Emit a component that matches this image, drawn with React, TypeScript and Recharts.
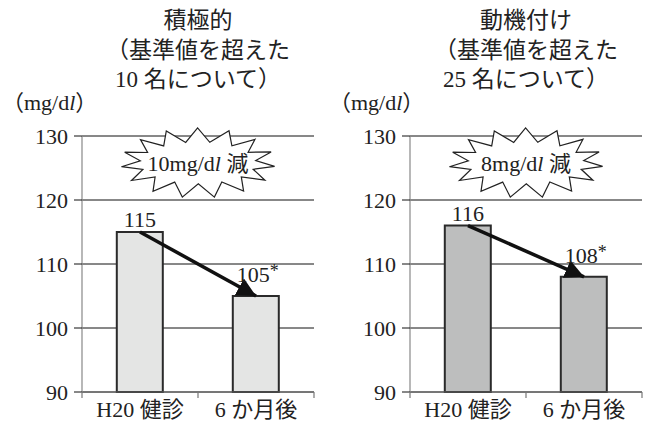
import React from "react";
import {
  BarChart, Bar, Line, XAxis, YAxis, CartesianGrid, LabelList, ReferenceArea,
} from "recharts";

// 健診時と6か月後の平均値（mg/dl）
const categories = ["H20 健診", "6 か月後"];
const sekkyokuValues = [115, 105];
const doukiValues = [116, 108];
const significance = ["", "*"];
const yTicks = [90, 100, 110, 120, 130];

const FONT = '"Liberation Serif", "Times New Roman", "DejaVu Serif", "Noto Sans CJK JP", serif';
const INK = "#222";

const toRows = (values: number[]) =>
  categories.map((name, i) => ({ name, value: values[i], mark: significance[i] }));

// カテゴリ名と、カテゴリ境界の目盛り線
const CategoryTick = (props: any) => {
  const { x, y, width, index, payload } = props;
  const band = width / categories.length;
  const left = x - band / 2;
  const right = x + band / 2;
  return (
    <g>
      <line x1={left} x2={left} y1={y} y2={y + 6} stroke="#777" strokeWidth={1.2} />
      {index === categories.length - 1 && (
        <line x1={right} x2={right} y1={y} y2={y + 6} stroke="#777" strokeWidth={1.2} />
      )}
      <text x={x} y={y + 25} textAnchor="middle" fontSize={22} fontFamily={FONT} fill={INK}>
        {payload.value}
      </text>
    </g>
  );
};

const ValueLabel = (props: any) => {
  const { x, y, width, index, value } = props;
  const lift = index === 0 ? 5 : 14;
  return (
    <text x={x + width / 2 + (index === 0 ? 0 : 2)} y={y - lift} textAnchor="middle"
      fontSize={22} fontFamily={FONT} fill={INK}>
      {value}
      {significance[index] && (
        <tspan fontSize={18} dy={-5}>{significance[index]}</tspan>
      )}
    </text>
  );
};

const starPoints = (cx: number, cy: number) => {
  const spikes = 15;
  const pts: string[] = [];
  for (let i = 0; i < spikes * 2; i++) {
    const a = (Math.PI * i) / spikes + 0.1;
    const outer = i % 2 === 0;
    const rx = outer ? 77 : 58;
    const ry = outer ? 35 : 21;
    pts.push(`${(cx + rx * Math.cos(a)).toFixed(1)},${(cy + ry * Math.sin(a)).toFixed(1)}`);
  }
  return pts.join(" ");
};

const makeBurst = (amount: number) => (props: any) => {
  const { x, y, width, height } = props;
  const cx = x + width / 2;
  const cy = y + height / 2;
  return (
    <g>
      <polygon points={starPoints(cx, cy)} fill="#fff" stroke="#222" strokeWidth={1.2} />
      <text x={cx} y={cy + 8} textAnchor="middle" fontSize={22} fontFamily={FONT} fill={INK}>
        {amount}mg/d<tspan fontStyle="italic">l</tspan> 減
      </text>
    </g>
  );
};

interface PanelProps {
  id: string;
  left: number;
  heading: string[];
  values: number[];
  fill: string;
  axisWidth: number;
  rightMargin: number;
}

function Panel({ id, left, heading, values, fill, axisWidth, rightMargin }: PanelProps) {
  const rows = toRows(values);
  const Burst = makeBurst(values[0] - values[1]);
  return (
    <div style={{ position: "absolute", left, top: 0, width: 327, height: 423 }}>
      <div style={{
        position: "absolute", left: axisWidth, width: 327 - axisWidth - rightMargin, top: 6,
        textAlign: "center", fontFamily: FONT, fontSize: 23, lineHeight: "29.5px", color: INK,
      }}>
        {heading.map((h) => <div key={h}>{h}</div>)}
      </div>
      <div style={{
        position: "absolute", left: 2, top: 90, fontFamily: FONT, fontSize: 22, color: INK,
        lineHeight: "26px", whiteSpace: "nowrap",
      }}>
        （mg/d<i>l</i>）
      </div>
      <BarChart width={327} height={423} data={rows} barCategoryGap="30%"
        style={{ fontFamily: FONT }}
        margin={{ top: 136, right: rightMargin, left: 0, bottom: 0 }}>
        <defs>
          <marker id={`arrow-${id}`} viewBox="0 0 10 10" refX={10} refY={5}
            markerUnits="userSpaceOnUse" markerWidth={19} markerHeight={19} orient="auto">
            <path d="M0,0 L10,5 L0,10 z" fill="#111" />
          </marker>
        </defs>
        <CartesianGrid vertical={false} stroke="#111" strokeWidth={1} />
        <XAxis dataKey="name" height={31} tickSize={0} tickMargin={0} tickLine={false}
          interval={0} axisLine={{ stroke: "#666", strokeWidth: 1.2 }} tick={<CategoryTick />} />
        <YAxis width={axisWidth} domain={[90, 130]} ticks={yTicks} interval={0}
          tickSize={8} tickMargin={6}
          tick={{ fontSize: 22, fontFamily: FONT, fill: INK }}
          tickLine={{ stroke: "#111" }} axisLine={{ stroke: "#888", strokeWidth: 1.2 }} />
        <Bar dataKey="value" fill={fill} stroke="#2a2a2a" strokeWidth={2} isAnimationActive={false}>
          <LabelList dataKey="value" content={<ValueLabel />} />
        </Bar>
        <Line dataKey="value" type="linear" stroke="#111" strokeWidth={3.5} dot={false}
          activeDot={false} markerEnd={`url(#arrow-${id})`} isAnimationActive={false} />
        <ReferenceArea x1={categories[0]} x2={categories[1]} y1={121.8} y2={129.8}
          ifOverflow="visible" shape={Burst} />
      </BarChart>
    </div>
  );
}

export default function App() {
  return (
    <div style={{ position: "absolute", left: 0, top: 0, width: 654, height: 423, background: "#fff" }}>
      <Panel id="sekkyoku" left={0} heading={["積極的", "（基準値を超えた", "10 名について）"]}
        values={sekkyokuValues} fill="#e4e5e4" axisWidth={82} rightMargin={13} />
      <Panel id="douki" left={327} heading={["動機付け", "（基準値を超えた", "25 名について）"]}
        values={doukiValues} fill="#bdbebe" axisWidth={83} rightMargin={12} />
    </div>
  );
}
